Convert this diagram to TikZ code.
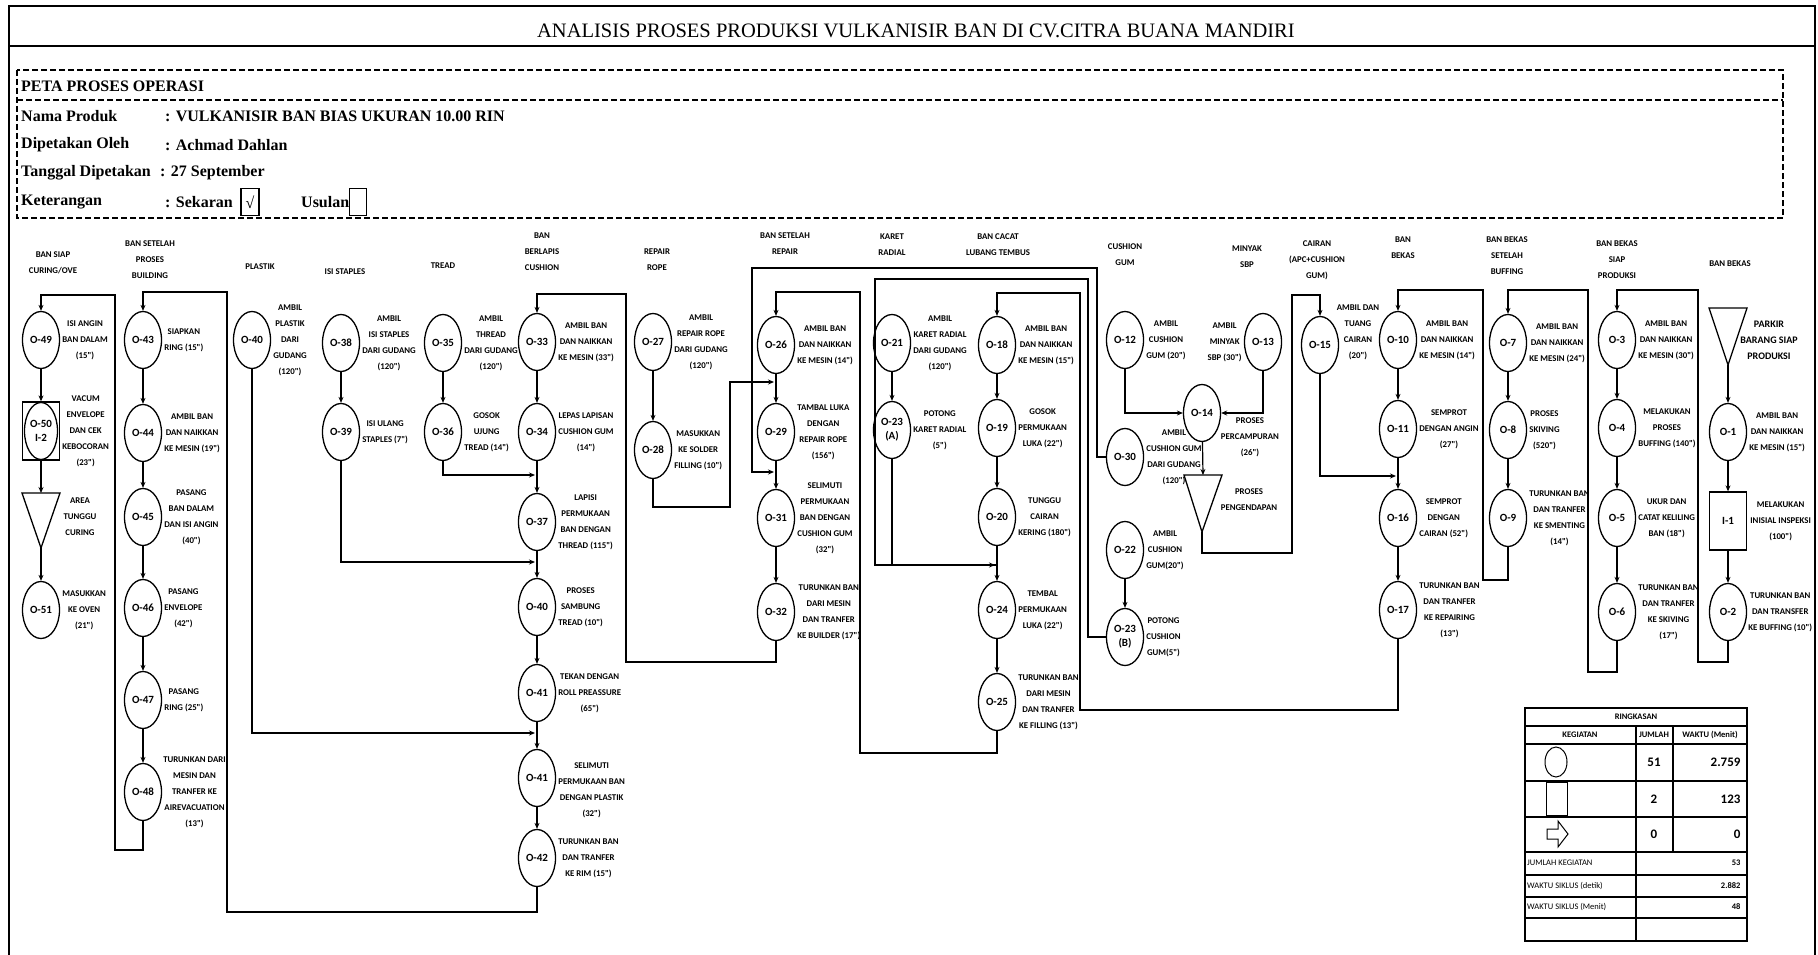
\documentclass[tikz,border=0pt]{standalone}
\usepackage{fontspec}
\setmainfont{Liberation Serif}
\newfontfamily\calib{Carlito}
\usetikzlibrary{shapes.geometric,positioning,arrows.meta}

\newcommand\lblsize{\calib\bfseries\fontsize{8.8}{16}\selectfont}
\newcommand\opsize{\calib\bfseries\fontsize{11}{14}\selectfont}
\newcommand\hdsize{\bfseries\fontsize{16}{18}\selectfont}
\newcommand\tblsize{\calib\fontsize{8.5}{9}\selectfont}
\newcommand\numsize{\calib\bfseries\fontsize{13}{14}\selectfont}

\begin{document}
\begin{tikzpicture}
  [ x=1pt, y=-1pt
  , op/.style={ellipse, draw, line width=1.3pt, minimum width=37pt, minimum height=57pt, inner sep=0pt, align=center, font=\opsize}
  , insp/.style={rectangle, draw, line width=1.3pt, minimum width=37pt, minimum height=58pt, inner sep=0pt, font=\opsize}
  , lbl/.style={align=center, inner sep=0pt, font=\lblsize}
  , hd/.style={inner sep=0pt, font=\hdsize}
  , flow/.style={draw, line width=1.2pt}
  , store/.style={draw, line width=1.3pt}
  , boxline/.style={draw, line width=2.4pt}
  , dashbox/.style={draw, line width=1.6pt, dash pattern=on 6pt off 3pt}
  , tbl/.style={draw, line width=1.1pt}
  , >={Stealth[length=6pt, width=5pt]}
  ]
  \useasboundingbox (0,0) rectangle (1818,955);

  % frame and title
  \draw[boxline] (9,960) -- (9,6) -- (1815,6) -- (1815,960);
  \draw[boxline] (9,46) -- (1815,46);
  \node[inner sep=0pt, font=\fontsize{20.5}{22}\selectfont] (title) at (916,31)
    {ANALISIS PROSES PRODUKSI VULKANISIR BAN DI CV.CITRA BUANA MANDIRI};

  % header block
  \draw[dashbox] (17,70) rectangle (1783,218);
  \draw[dashbox] (17,100) -- (1783,100);
  \node[hd, anchor=west] (peta) at (21,86) {PETA PROSES OPERASI};
  \node[hd, anchor=west] (nama) at (21,116) {Nama Produk};
  \node[hd, anchor=west] (namav) at (165,116) {: VULKANISIR BAN BIAS UKURAN 10.00 RIN};
  \node[hd, anchor=west] (oleh) at (21,145) {Dipetakan Oleh};
  \node[hd, anchor=west] (olehv) at (165,145) {: Achmad Dahlan};
  \node[hd, anchor=west] (tgl) at (21,173) {Tanggal Dipetakan};
  \node[hd, anchor=west] (tglv) at (160,173) {: 27 September};
  \node[hd, anchor=west] (ket) at (21,202) {Keterangan};
  \node[hd, anchor=west] (ketv) at (165,202) {: Sekaran};
  \node[hd, draw, line width=1.3pt, minimum width=18pt, minimum height=27pt] (skr) at (250,202) {√};
  \node[hd, anchor=west] (usl) at (301,202) {Usulan};
  \node[draw, line width=1.3pt, minimum width=17pt, minimum height=27pt] (uslbox) at (358,202) {};

  % ban siap curing
  \node[lbl] (h1) at (53,263) {BAN SIAP\\CURING/OVE};
  \node[op] (o49) at (41,340) {O-49};
  \node[lbl, right=2pt of o49] (l49) {ISI ANGIN\\BAN DALAM\\(15")};
  \node[insp] (i2) at (41,431) {};
  \node[op, minimum width=33pt] (o50) at (41,431) {O-50\\I-2};
  \node[lbl, right=2pt of i2] (l50) {VACUM\\ENVELOPE\\DAN CEK\\KEBOCORAN\\(23")};
  \coordinate (t1top) at (41,493);
  \coordinate (t1tip) at (41,548);
  \draw[store] (22,493) -- (60,493) -- (t1tip) -- cycle;
  \node[lbl] (lt1) at (80,517) {AREA\\TUNGGU\\CURING};
  \node[op] (o51) at (41,610) {O-51};
  \node[lbl, right=2pt of o51] (l51) {MASUKKAN\\KE OVEN\\(21")};

  % ban setelah building
  \node[lbl] (h2) at (150,260) {BAN SETELAH\\PROSES\\BUILDING};
  \node[op] (o43) at (143,340) {O-43};
  \node[lbl, right=2pt of o43] (l43) {SIAPKAN\\RING (15")};
  \node[op] (o44) at (143,433) {O-44};
  \node[lbl, right=2pt of o44] (l44) {AMBIL BAN\\DAN NAIKKAN\\KE MESIN (19")};
  \node[op] (o45) at (143,517) {O-45};
  \node[lbl, right=2pt of o45] (l45) {PASANG\\BAN DALAM\\DAN ISI ANGIN\\(40")};
  \node[op] (o46) at (143,608) {O-46};
  \node[lbl, right=2pt of o46] (l46) {PASANG\\ENVELOPE\\(42")};
  \node[op] (o47) at (143,700) {O-47};
  \node[lbl, right=2pt of o47] (l47) {PASANG\\RING (25")};
  \node[op] (o48) at (143,792) {O-48};
  \node[lbl, right=1pt of o48] (l48) {TURUNKAN DARI\\MESIN DAN\\TRANFER KE\\AIREVACUATION\\(13")};

  % plastik, staples, tread
  \node[lbl] (h3) at (260,267) {PLASTIK};
  \node[op] (o40) at (252,340) {O-40};
  \node[lbl, right=2pt of o40] (l40) {AMBIL\\PLASTIK\\DARI\\GUDANG\\(120")};
  \node[lbl] (h4) at (345,272) {ISI STAPLES};
  \node[op] (o38) at (341,343) {O-38};
  \node[lbl, right=2pt of o38] (l38) {AMBIL\\ISI STAPLES\\DARI GUDANG\\(120")};
  \node[op] (o39) at (341,432) {O-39};
  \node[lbl, right=2pt of o39] (l39) {ISI ULANG\\STAPLES (7")};
  \node[lbl] (h5) at (443,266) {TREAD};
  \node[op] (o35) at (443,343) {O-35};
  \node[lbl, right=2pt of o35] (l35) {AMBIL\\THREAD\\DARI GUDANG\\(120")};
  \node[op] (o36) at (443,432) {O-36};
  \node[lbl, right=2pt of o36] (l36) {GOSOK\\UJUNG\\TREAD (14")};

  % ban berlapis cushion
  \node[lbl] (h6) at (542,252) {BAN\\BERLAPIS\\CUSHION};
  \node[op] (o33) at (537,342) {O-33};
  \node[lbl, right=2pt of o33] (l33) {AMBIL BAN\\DAN NAIKKAN\\KE MESIN (33")};
  \node[op] (o34) at (537,432) {O-34};
  \node[lbl, right=2pt of o34] (l34) {LEPAS LAPISAN\\CUSHION GUM\\(14")};
  \node[op] (o37) at (537,522) {O-37};
  \node[lbl, right=2pt of o37] (l37) {LAPISI\\PERMUKAAN\\BAN DENGAN\\THREAD (115")};
  \node[op] (o40b) at (537,607) {O-40};
  \node[lbl, right=2pt of o40b] (l40b) {PROSES\\SAMBUNG\\TREAD (10")};
  \node[op] (o41) at (537,693) {O-41};
  \node[lbl, right=2pt of o41] (l41) {TEKAN DENGAN\\ROLL PREASSURE\\(65")};
  \node[op] (o41b) at (537,778) {O-41};
  \node[lbl, right=2pt of o41b, yshift=-12pt] (l41b) {SELIMUTI\\PERMUKAAN BAN\\DENGAN PLASTIK\\(32")};
  \node[op] (o42) at (537,858) {O-42};
  \node[lbl, right=2pt of o42] (l42) {TURUNKAN BAN\\DAN TRANFER\\KE RIM (15")};

  % repair rope, ban setelah repair
  \node[lbl] (h7) at (657,260) {REPAIR\\ROPE};
  \node[op] (o27) at (653,342) {O-27};
  \node[lbl, right=2pt of o27] (l27) {AMBIL\\REPAIR ROPE\\DARI GUDANG\\(120")};
  \node[op] (o28) at (653,450) {O-28};
  \node[lbl, right=2pt of o28] (l28) {MASUKKAN\\KE SOLDER\\FILLING (10")};
  \node[lbl] (h8) at (785,244) {BAN SETELAH\\REPAIR};
  \node[op] (o26) at (776,345) {O-26};
  \node[lbl, right=2pt of o26] (l26) {AMBIL BAN\\DAN NAIKKAN\\KE MESIN (14")};
  \node[op] (o29) at (776,432) {O-29};
  \node[lbl, right=2pt of o29] (l29) {TAMBAL LUKA\\DENGAN\\REPAIR ROPE\\(156")};
  \node[op] (o31) at (776,518) {O-31};
  \node[lbl, right=2pt of o31] (l31) {SELIMUTI\\PERMUKAAN\\BAN DENGAN\\CUSHION GUM\\(32")};
  \node[op] (o32) at (776,612) {O-32};
  \node[lbl, right=2pt of o32] (l32) {TURUNKAN BAN\\DARI MESIN\\DAN TRANFER\\KE BUILDER (17")};

  % karet radial, ban cacat
  \node[lbl] (h9) at (892,245) {KARET\\RADIAL};
  \node[op] (o21) at (892,343) {O-21};
  \node[lbl, right=2pt of o21] (l21) {AMBIL\\KARET RADIAL\\DARI GUDANG\\(120")};
  \node[op] (o23a) at (892,430) {O-23\\(A)};
  \node[lbl, right=2pt of o23a] (l23a) {POTONG\\KARET RADIAL\\(5")};
  \node[lbl] (h10) at (998,245) {BAN CACAT\\LUBANG TEMBUS};
  \node[op] (o18) at (997,345) {O-18};
  \node[lbl, right=2pt of o18] (l18) {AMBIL BAN\\DAN NAIKKAN\\KE MESIN (15")};
  \node[op] (o19) at (997,428) {O-19};
  \node[lbl, right=2pt of o19] (l19) {GOSOK\\PERMUKAAN\\LUKA (22")};
  \node[op] (o20) at (997,517) {O-20};
  \node[lbl, right=2pt of o20] (l20) {TUNGGU\\CAIRAN\\KERING (180")};
  \node[op] (o24) at (997,610) {O-24};
  \node[lbl, right=2pt of o24] (l24) {TEMBAL\\PERMUKAAN\\LUKA (22")};
  \node[op] (o25) at (997,702) {O-25};
  \node[lbl, right=2pt of o25] (l25) {TURUNKAN BAN\\DARI MESIN\\DAN TRANFER\\KE FILLING (13")};

  % cushion gum, minyak sbp, cairan
  \node[lbl] (h11) at (1125,255) {CUSHION\\GUM};
  \node[op] (o12) at (1125,340) {O-12};
  \node[lbl, right=2pt of o12] (l12) {AMBIL\\CUSHION\\GUM (20")};
  \node[op] (o30) at (1125,457) {O-30};
  \node[lbl, right=2pt of o30] (l30) {AMBIL\\CUSHION GUM\\DARI GUDANG\\(120")};
  \node[op] (o22) at (1125,550) {O-22};
  \node[lbl, right=2pt of o22] (l22) {AMBIL\\CUSHION\\GUM(20")};
  \node[op] (o23b) at (1125,637) {O-23\\(B)};
  \node[lbl, right=2pt of o23b] (l23b) {POTONG\\CUSHION\\GUM(5")};
  \node[lbl] (h12) at (1247,257) {MINYAK\\SBP};
  \node[op] (o13) at (1263,342) {O-13};
  \node[lbl, left=2pt of o13] (l13) {AMBIL\\MINYAK\\SBP (30")};
  \node[op] (o14) at (1202,413) {O-14};
  \node[lbl] (l14) at (1250,437) {PROSES\\PERCAMPURAN\\(26")};
  \coordinate (t2top) at (1203,475);
  \coordinate (t2tip) at (1202,532);
  \draw[store] (1184,475) -- (1222,475) -- (t2tip) -- cycle;
  \node[lbl] (lt2) at (1249,500) {PROSES\\PENGENDAPAN};
  \node[lbl] (h13) at (1317,260) {CAIRAN\\(APC+CUSHION\\GUM)};
  \node[op] (o15) at (1320,345) {O-15};
  \node[lbl] (l15) at (1358,332) {AMBIL DAN\\TUANG\\CAIRAN\\(20")};

  % ban bekas
  \node[lbl] (h14) at (1403,248) {BAN\\BEKAS};
  \node[op] (o10) at (1398,340) {O-10};
  \node[lbl, right=2pt of o10] (l10) {AMBIL BAN\\DAN NAIKKAN\\KE MESIN (14")};
  \node[op] (o11) at (1398,429) {O-11};
  \node[lbl, right=2pt of o11] (l11) {SEMPROT\\DENGAN ANGIN\\(27")};
  \node[op] (o16) at (1398,518) {O-16};
  \node[lbl, right=2pt of o16] (l16) {SEMPROT\\DENGAN\\CAIRAN (52")};
  \node[op] (o17) at (1398,610) {O-17};
  \node[lbl, right=2pt of o17] (l17) {TURUNKAN BAN\\DAN TRANFER\\KE REPAIRING\\(13")};

  \node[lbl] (h15) at (1507,256) {BAN BEKAS\\SETELAH\\BUFFING};
  \node[op] (o7) at (1508,343) {O-7};
  \node[lbl, right=2pt of o7] (l7) {AMBIL BAN\\DAN NAIKKAN\\KE MESIN (24")};
  \node[op] (o8) at (1508,430) {O-8};
  \node[lbl, right=2pt of o8] (l8) {PROSES\\SKIVING\\(520")};
  \node[op] (o9) at (1508,518) {O-9};
  \node[lbl, right=2pt of o9] (l9) {TURUNKAN BAN\\DAN TRANFER\\KE SMENTING\\(14")};

  \node[lbl] (h16) at (1617,260) {BAN BEKAS\\SIAP\\PRODUKSI};
  \node[op] (o3) at (1617,340) {O-3};
  \node[lbl, right=2pt of o3] (l3) {AMBIL BAN\\DAN NAIKKAN\\KE MESIN (30")};
  \node[op] (o4) at (1617,428) {O-4};
  \node[lbl, right=2pt of o4] (l4) {MELAKUKAN\\PROSES\\BUFFING (140")};
  \node[op] (o5) at (1617,518) {O-5};
  \node[lbl, right=2pt of o5] (l5) {UKUR DAN\\CATAT KELILING\\BAN (18")};
  \node[op] (o6) at (1617,612) {O-6};
  \node[lbl, right=2pt of o6] (l6) {TURUNKAN BAN\\DAN TRANFER\\KE SKIVING\\(17")};

  \node[lbl] (h17) at (1730,264) {BAN BEKAS};
  \coordinate (t3tip) at (1728,365);
  \draw[store] (1709,308) -- (1747,308) -- (t3tip) -- cycle;
  \node[lbl, font=\calib\bfseries\fontsize{10}{16}\selectfont] (lt3) at (1769,340) {PARKIR\\BARANG SIAP\\PRODUKSI};
  \node[op] (o1) at (1728,432) {O-1};
  \node[lbl, right=2pt of o1] (l1) {AMBIL BAN\\DAN NAIKKAN\\KE MESIN (15")};
  \node[insp] (i1) at (1728,521) {I-1};
  \node[lbl, right=3pt of i1] (li1) {MELAKUKAN\\INISIAL INSPEKSI\\(100")};
  \node[op] (o2) at (1728,612) {O-2};
  \node[lbl, right=1pt of o2] (l2) {TURUNKAN BAN\\DAN TRANSFER\\KE BUFFING (10")};

  % straight flows
  \draw[->, flow] (o49) -- (i2);
  \draw[->, flow] (i2) -- (t1top);
  \draw[->, flow] (t1tip) -- (o51);
  \draw[->, flow] (o43) -- (o44);
  \draw[->, flow] (o44) -- (o45);
  \draw[->, flow] (o45) -- (o46);
  \draw[->, flow] (o46) -- (o47);
  \draw[->, flow] (o47) -- (o48);
  \draw[->, flow] (o38) -- (o39);
  \draw[->, flow] (o35) -- (o36);
  \draw[->, flow] (o33) -- (o34);
  \draw[->, flow] (o34) -- (o37);
  \draw[->, flow] (o37) -- (o40b);
  \draw[->, flow] (o40b) -- (o41);
  \draw[->, flow] (o41) -- (o41b);
  \draw[->, flow] (o41b) -- (o42);
  \draw[->, flow] (o27) -- (o28);
  \draw[->, flow] (o26) -- (o29);
  \draw[->, flow] (o29) -- (o31);
  \draw[->, flow] (o31) -- (o32);
  \draw[->, flow] (o21) -- (o23a);
  \draw[->, flow] (o18) -- (o19);
  \draw[->, flow] (o19) -- (o20);
  \draw[->, flow] (o20) -- (o24);
  \draw[->, flow] (o24) -- (o25);
  \draw[->, flow] (o22) -- (o23b);
  \draw[->, flow] (o14) -- (t2top);
  \draw[->, flow] (o10) -- (o11);
  \draw[->, flow] (o11) -- (o16);
  \draw[->, flow] (o16) -- (o17);
  \draw[->, flow] (o7) -- (o8);
  \draw[->, flow] (o8) -- (o9);
  \draw[->, flow] (o3) -- (o4);
  \draw[->, flow] (o4) -- (o5);
  \draw[->, flow] (o5) -- (o6);
  \draw[->, flow] (t3tip) -- (o1);
  \draw[->, flow] (o1) -- (i1);
  \draw[->, flow] (i1) -- (o2);

  % feeds into a line
  \draw[->, flow] (o40.south) |- (535,733);
  \draw[->, flow] (o39.south) |- (535,562);
  \draw[->, flow] (o36.south) |- (535,475);
  \draw[->, flow] (o28.south) |- (730,507) |- (774,382);
  \draw[->, flow] (o30.west) -- (1097,457) |- (752,268) |- (774,472);
  \draw[->, flow] (o23a.south) |- (995,565);
  \draw[flow] (o23b.west) -- (1088,637) |- (875,279) |- (997,565);
  \draw[->, flow] (o12.south) |- (o14.west);
  \draw[->, flow] (o13.south) |- (o14.east);
  \draw[->, flow] (t2tip) |- (1292,553) |- (1320,295) -- (o15);
  \draw[->, flow] (o15.south) |- (1396,476);

  % returns to the next line
  \draw[->, flow] (o48.south) |- (115,850) |- (41,295) -- (o49);
  \draw[->, flow] (o42.south) |- (227,912) |- (143,292) -- (o43);
  \draw[->, flow] (o32.south) |- (626,662) |- (537,294) -- (o33);
  \draw[->, flow] (o25.south) |- (860,753) |- (776,292) -- (o26);
  \draw[->, flow] (o17.south) |- (1080,710) |- (997,293) -- (o18);
  \draw[->, flow] (o9.south) |- (1483,580) |- (1398,290) -- (o10);
  \draw[->, flow] (o6.south) |- (1588,672) |- (1508,290) -- (o7);
  \draw[->, flow] (o2.south) |- (1698,662) |- (1617,290) -- (o3);

  % ringkasan
  \draw[tbl] (1525,708) rectangle (1747,941);
  \foreach \y in {726,744,781,817,852,875,897,918}
    \draw[tbl] (1525,\y) -- (1747,\y);
  \draw[tbl] (1636,726) -- (1636,941);
  \draw[tbl] (1673,726) -- (1673,852);
  \node[font=\tblsize\bfseries] (rk) at (1636,717) {RINGKASAN};
  \node[font=\tblsize\bfseries] (kg) at (1580,735) {KEGIATAN};
  \node[font=\tblsize\bfseries] (jm) at (1654,735) {JUMLAH};
  \node[font=\tblsize\bfseries] (wk) at (1710,735) {WAKTU (Menit)};
  \node[ellipse, draw, line width=1pt, minimum width=22pt, minimum height=30pt, inner sep=0pt] (sop) at (1556,762) {};
  \node[rectangle, draw, line width=1.6pt, minimum width=21pt, minimum height=33pt, inner sep=0pt] (sin) at (1557,799) {};
  \draw[line width=1pt] (1547,829) -- (1558,829) -- (1558,821) -- (1568,834) -- (1558,847) -- (1558,839) -- (1547,839) -- cycle;
  \node[font=\numsize] (n51) at (1654,762) {51};
  \node[font=\numsize, anchor=east] (w51) at (1744,762) {2.759};
  \node[font=\numsize] (n2) at (1654,799) {2};
  \node[font=\numsize, anchor=east] (w2) at (1744,799) {123};
  \node[font=\numsize] (n0) at (1654,834) {0};
  \node[font=\numsize, anchor=east] (w0) at (1744,834) {0};
  \node[font=\tblsize, anchor=west, inner sep=1pt] (jk) at (1526,863) {JUMLAH KEGIATAN};
  \node[font=\tblsize\bfseries, anchor=east] (v53) at (1744,863) {53};
  \node[font=\tblsize, anchor=west, inner sep=1pt] (wsd) at (1526,886) {WAKTU SIKLUS (detik)};
  \node[font=\tblsize\bfseries, anchor=east] (v2882) at (1744,886) {2.882};
  \node[font=\tblsize, anchor=west, inner sep=1pt] (wsm) at (1526,907) {WAKTU SIKLUS (Menit)};
  \node[font=\tblsize\bfseries, anchor=east] (v48) at (1744,907) {48};
\end{tikzpicture}
\end{document}
